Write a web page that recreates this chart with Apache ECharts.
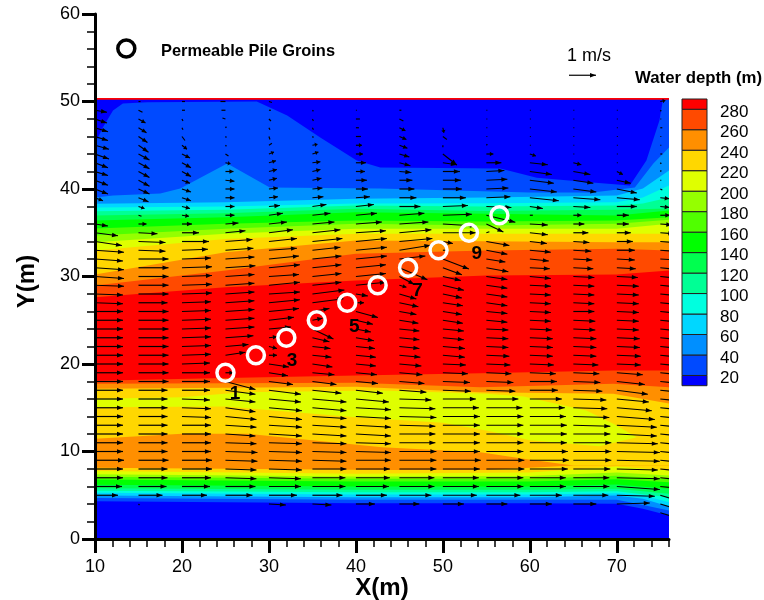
<!DOCTYPE html>
<html><head><meta charset="utf-8"><style>html,body{margin:0;background:#fff}#c{width:764px;height:600px}</style>
<script src="https://cdn.jsdelivr.net/npm/echarts@6/dist/echarts.min.js"></script></head>
<body><div id="c"></div><script>
// ---- depth contours: [x, y] points; the area above each line takes the paired colour
const c1=[[10,4.32],[40,4.09],[60,4.09],[70,4.02],[73,3.45],[76,2.69]];
const c2=[[10,4.7],[40,4.48],[60,4.48],[70,4.48],[73,3.9],[76,3.26]];
const c3=[[10,4.97],[40,4.78],[60,4.78],[70,4.97],[73,4.6],[76,3.71]];
const c4=[[10,5.28],[40,5.09],[60,5.09],[70,5.24],[73,5.0],[76,4.21]];
const c5=[[10,5.51],[40,5.35],[60,5.35],[70,5.47],[76,4.78]];
const c6=[[10,5.81],[40,5.62],[60,5.62],[70,5.73],[76,5.16]];
const c7=[[10,6.2],[40,6.0],[60,6.0],[70,6.23],[76,5.73]];
const c8=[[10,6.8],[40,6.57],[60,6.57],[70,6.84],[76,6.49]];
const c9=[[10,7.11],[40,6.88],[60,6.9],[70,7.22],[76,6.88]];
const c10=[[10,7.41],[40,7.14],[60,7.2],[70,7.6],[76,7.26]];
const c11=[[10,7.76],[40,7.45],[60,7.6],[70,8.29],[76,7.83]];
const o1=[[10,8.14],[25,8.02],[43,7.9],[55,7.9],[65,8.4],[76,8.4]];
const o2=[[10,11.45],[20,12.02],[27.5,12.02],[43,10.49],[54.3,9.92],[59.3,9.17],[65,8.4],[76,8.4]];
const d1=[[10,15.06],[25,15.14],[40,13.92],[50,13.3],[55,12.4],[60,11.3],[68,10.6],[72.3,11.63],[76,11.63]];
const d2=[[10,16.02],[20,16.2],[27,16.78],[42.8,16.97],[55,16.6],[59.3,16.3],[66.5,14.69],[69.6,13.17],[72.3,11.63],[76,11.63]];
const d3=[[10,17.17],[25,17.3],[40,17.4],[54.3,16.78],[69.6,16.6],[76,15.5]];
const d4=[[10,17.74],[25,17.8],[40,17.85],[54.3,17.35],[69.6,17.74],[76,17.35]];
const d5=[[10,18.1],[25,18.4],[40,18.7],[54.3,18.95],[69.6,19.26],[76,19.26]];
const r1=[[10,27.63],[25,28.78],[40,29.54],[55,30.11],[70,30.23],[76,30.69]];
const r2=[[10,28.97],[25,30.69],[40,32.6],[55,32.97],[70,33.17],[76,32.97]];
const r3=[[10,30.23],[25,32.78],[40,34.11],[55,34.03],[70,33.92],[76,33.92]];
const r4=[[10,32.97],[25,34.3],[40,34.88],[55,34.88],[70,34.88],[76,34.88]];
const r5=[[10,33.92],[25,34.88],[40,35.45],[55,35.45],[70,35.45],[76,36.02]];
const r6=[[10,34.69],[25,35.45],[40,36.02],[55,35.83],[70,36.02],[76,36.48]];
const r7=[[10,35.49],[25,36.02],[40,36.4],[55,36.3],[70,36.4],[76,36.78]];
const r8=[[10,36.4],[25,36.78],[40,37.35],[55,37.16],[70,36.97],[76,37.54]];
const r9=[[10,36.97],[25,37.24],[40,37.73],[55,37.49],[70,37.62],[76,37.77]];
const r10=[[10,37.46],[25,37.62],[40,38.11],[55,38],[70,38.11],[73,38.34],[76,39.03]];
const r11=[[10,37.89],[25,38],[40,38.34],[55,38.38],[70,38.49],[73,39.03],[76,40.4]];
const r12=[[10,38.31],[25,38.49],[40,38.9],[55,39.03],[70,39.26],[73,40.06],[76,42.11]];
const r13=[[10,39.03],[12.07,39.26],[17.5,39.49],[19.8,40.06],[25.2,42.91],[30.1,40.17],[42.8,40.06],[60,39.6],[67.2,39.6],[72.07,40.17],[74.2,42.91],[76,44.75]];
const r14=[[10,45.2],[10.9,47.03],[12.07,48.97],[13.2,49.77],[16,49.92],[28.6,50],[32.1,48.4],[35.9,45.89],[40.1,43.26],[42.8,42.46],[56.6,42.34],[60.8,41.3],[67.2,40.74],[71.5,40.4],[73.4,43.26],[74.9,47.83],[75.3,50.2],[76,50.2]];
const wallLine=[[10,50.2],[76,50.2]];
const domainTop=50.4;
const baseLine=[[10,0],[76,0]];
const contourLines=[baseLine,c1,c2,c3,c4,c5,c6,c7,c8,c9,c10,c11,o1,o2,d1,d2,d3,d4,d5,r1,r2,r3,r4,r5,r6,r7,r8,r9,r10,r11,r12,r13,r14,wallLine];
// lower edge of the depth band that lies above each contour line
const contourBands=[10,20,40,60,80,100,120,140,160,180,200,220,240,220,200,220,240,260,280,260,240,220,200,180,160,140,120,100,80,60,40,20,10,280];

// ---- colour scale
const legendLevels=[20,40,60,80,100,120,140,160,180,200,220,240,260,280];
const legendEdges=[10,20,40,60,80,100,120,140,160,180,200,220,240,260,280,290];
const legendColors=['#0000ff','#004aff','#008fff','#00d7ff','#00ffdf','#00ff95','#00ff4f','#00ff00','#50ff00','#95ff00','#dfff00','#ffd700','#ff8f00','#ff4a00','#ff0000'];

// ---- velocity field: rows y=50..3, columns x=10..75; values in 1/27 m/s
const rowY=[50,49,48,47,46,45,44,43,42,41,40,39,38,37,36,35,34,33,32,31,30,29,28,27,26,25,24,23,22,21,20,19,18,17,16,15,14,13,12,11,10,9,8,7,6,5,4,3];
const columnX=[10,15,20,25,30,35,40,45,50,55,60,65,70,75];
const u10=[0,12,12,13,13,14,14,13,13,13, 13,8,0,0,13,23,27,29,28,29, 29,29,28,28,28,28,28,28,28,28, 28,28,28,28,28,28,28,28,28,28, 28,29,28,28,27,23,0,0];
const v10=[0,-2,-4,-4,-4,-4,-5,-5,-4,-5, -5,-3,0,0,-2,-3,-4,-2,-2,-2, -2,-1,-1,-1,0,0,0,0,0,0, 0,0,0,0,0,0,0,0,0,0, 0,0,0,0,0,0,0,0];
const u15=[2,4,7,8,9,10,11,11,11,11, 11,10,6,3,8,19,27,27,30,30, 30,30,30,29,30,30,30,30,30,30, 30,30,30,29,29,29,29,29,29,29, 29,30,29,29,28,24,1,0];
const v15=[0,-2,-4,-5,-6,-7,-6,-6,-6,-6, -5,-4,-2,-1,0,-1,-1,-1,0,0, 0,0,0,0,0,0,0,0,0,0, 0,0,0,0,0,0,0,0,0,0, 0,0,0,0,0,0,-1,0];
const u20=[3,3,1,1,3,5,8,9,9,8, 9,9,8,7,10,17,27,26,29,30, 30,30,30,29,29,29,29,29,29,29, 28,28,28,28,28,29,29,29,29,29, 29,30,30,29,28,25,0,0];
const v20=[0,0,-2,-2,-4,-4,-4,-5,-5,-3, -3,-3,-2,-1,0,0,0,1,1,1, 1,1,1,1,1,1,1,1,1,1, 1,0,0,0,-1,-1,-1,0,0,0, 0,0,0,0,0,0,0,0];
const u25=[-5,-4,-3,1,1,1,3,5,8,9, 9,9,9,9,13,20,27,28,29,30, 29,29,29,29,29,29,29,28,23,20, 0,8,30,30,30,30,31,31,30,31, 32,32,31,31,30,27,0,0];
const v25=[0,0,1,1,-1,-1,-2,-1,0,-1, 0,0,0,0,1,2,2,2,2,2, 2,2,2,2,2,2,2,2,2,3, 0,0,-8,-4,-3,-4,-3,-2,-2,-1, -1,-1,-1,-1,0,0,0,0];
const u30=[3,2,2,1,1,3,5,7,8,8, 9,9,11,14,18,24,28,28,30,31, 30,31,31,31,30,25,22,8,8,8, 20,19,24,32,32,33,33,33,33,33, 33,33,33,32,32,28,17,0];
const v30=[-1,0,-2,-2,-3,2,2,2,2,2, 1,1,1,2,2,3,3,2,3,3, 2,3,2,3,3,3,2,1,-2,0, -3,-3,-3,-4,-3,-3,-3,-2,-2,-1, -1,-1,-1,-1,0,0,-1,0];
const u35=[0,1,1,1,1,5,6,8,8,9, 10,11,14,18,22,28,30,28,29,29, 29,29,32,31,17,10,21,17,18,19, 20,22,24,29,34,34,34,34,34,34, 34,34,34,33,33,30,19,0];
const v35=[0,-1,-2,-2,-1,1,2,1,2,2, 1,1,2,2,2,3,3,3,3,3, 3,3,4,4,3,2,-10,-4,-2,-2, -3,-2,-3,-3,-3,-3,-2,-2,-2,-1, -1,-1,0,0,0,0,-1,0];
const u40=[0,1,4,3,5,6,7,10,9,11, 12,14,18,21,26,30,31,31,31,30, 30,30,12,8,22,17,15,18,19,20, 20,21,22,27,33,35,35,35,35,35, 35,35,34,34,33,31,19,0];
const v40=[0,0,0,0,0,0,0,0,0,0, 0,1,2,2,2,2,3,3,3,3, 3,3,-2,0,-6,-4,-3,-3,-2,-2, -2,-2,-2,-3,-3,-2,-2,-2,-2,-1, -1,0,0,0,0,0,0,0];
const u45=[0,2,4,6,7,8,10,11,12,13, 15,17,21,25,29,32,33,31,26,28, 15,7,17,19,17,19,20,20,20,21, 22,23,25,27,32,36,37,36,36,36, 37,37,37,35,35,32,20,0];
const v45=[0,0,-2,-3,-3,-3,-3,-3,-1,0, 0,0,0,2,2,3,3,5,3,-12, -8,-2,-5,-4,-3,-3,-2,-2,-2,-2, -2,-2,-2,-2,-1,-1,-1,-1,0,0, 0,0,0,0,0,0,0,0];
const u50=[0,0,0,1,4,0,14,14,17,18, 19,23,25,29,33,33,10,3,26,19, 18,21,19,20,19,20,21,21,22,22, 23,25,27,28,33,36,37,37,37,37, 37,38,37,36,36,34,21,0];
const v50=[0,0,0,-5,-3,-2,-11,-2,0,0, 0,0,1,1,-2,0,-2,0,-10,-7, -4,-5,-4,-3,-3,-3,-2,-2,-2,-2, -1,-1,-1,-1,0,0,0,0,0,0, 0,0,0,0,0,0,0,0];
const u55=[0,1,1,1,1,1,7,15,18,21, 22,24,25,29,17,3,23,21,19,22, 21,21,21,21,21,21,22,22,22,23, 24,25,27,29,32,36,37,37,37,37, 37,38,38,37,37,34,21,0];
const v55=[0,0,0,0,0,1,0,0,1,1, 1,1,-1,-7,-8,1,-4,-4,-3,-4, -3,-3,-3,-3,-2,-2,-1,-1,-1,-1, -1,-1,-1,-1,0,0,0,0,0,0, 0,0,0,0,0,0,0,0];
const u60=[0,1,1,1,1,1,6,18,22,24, 27,29,13,3,18,18,17,21,19,20, 21,21,21,21,21,21,22,23,23,23, 24,26,27,28,32,35,36,37,37,37, 38,39,38,36,36,32,22,0];
const v60=[0,0,0,0,0,0,-2,-2,-3,-3, -3,-3,-2,0,-1,-2,-2,-2,-2,-1, -2,-1,-1,-1,-1,-1,-1,-1,-1,-1, -1,-1,0,0,0,0,0,0,0,0, 0,0,0,0,0,0,0,0];
const u65=[0,1,1,1,1,1,1,8,17,20, 23,27,17,8,11,15,16,18,19,20, 21,21,21,21,21,22,22,23,23,23, 25,26,27,29,33,34,36,37,37,38, 38,38,37,36,36,35,23,0];
const v65=[0,0,0,0,0,0,0,-2,-3,-3, -3,-2,-1,0,0,0,-1,-1,-1,-1, -1,-1,-1,-1,0,-1,-1,-1,-1,-1, -1,-1,-1,-1,-1,-1,-1,-1,0,0, 0,0,0,0,0,0,0,0];
const u70=[0,1,1,1,1,1,1,1,6,14, 20,23,20,12,12,14,16,18,18,19, 21,22,22,22,22,22,22,23,23,24, 24,26,28,31,32,35,38,40,40,41, 43,43,41,43,43,38,33,0];
const v70=[0,0,0,0,0,0,0,0,-3,-3, -4,-2,0,0,0,0,0,0,-1,-1, -1,-1,-1,-1,-1,-1,-1,-1,-1,-1, -1,-2,-3,-4,-3,-3,-3,-2,-2,-1, -1,-1,-1,-1,-3,-1,1,0];
const u75=[5,1,1,2,1,1,2,1,1,1, 2,9,9,10,12,14,16,16,18,18, 20,20,20,20,20,20,20,20,20,20, 22,22,22,22,22,22,22,22,22,22, 22,22,22,20,20,20,20,20];
const v75=[1,-1,0,0,0,0,0,-1,1,0, -1,-1,-1,0,-1,-1,-1,-1,-1,-2, -2,-2,-2,-2,-2,-2,-2,-2,-2,-2, -2,-2,-2,-2,-2,-2,-2,-2,-2,-2, -2,-2,-2,-2,-2,-6,-6,-6];
const uColumns=[u10,u15,u20,u25,u30,u35,u40,u45,u50,u55,u60,u65,u70,u75];
const vColumns=[v10,v15,v20,v25,v30,v35,v40,v45,v50,v55,v60,v65,v70,v75];
const unitsPerMs=27;
const keyArrow=[64.5,53,27,0];

// ---- groins
const pileX=[25,28.5,32,35.5,39,42.5,46,49.5,53,56.5];
const pileY=[19,21,23,25,27,29,31,33,35,37];
const pileKey=[13.6,56.05];
const pileNames=['1','3','5','7','9'];
const pileNameX=[26.1,32.65,39.8,47.1,53.9];
const pileNameY=[16.6,20.4,24.3,28.4,32.6];

// ---- axes
const xMajorTicks=[10,20,30,40,50,60,70];
const FONT='"Liberation Sans",Arial,sans-serif';
const dataPerMsX=27/8.7, dataPerMsY=27/8.75;

const bandColor=v=>legendColors[legendEdges.indexOf(v)];

const quiver=[];
columnX.forEach((x,c)=>rowY.forEach((y,r)=>{
  const u=uColumns[c][r],v=vColumns[c][r];
  if(u||v) quiver.push([x,y,u,v]);
}));
quiver.push(keyArrow);

function arrowItem(params,api){
  const x=api.value(0),y=api.value(1),u=api.value(2),v=api.value(3);
  const a=api.coord([x,y]);
  const b=api.coord([x+u/unitsPerMs*dataPerMsX,y+v/unitsPerMs*dataPerMsY]);
  const dx=b[0]-a[0],dy=b[1]-a[1],L=Math.hypot(dx,dy)||1,ux=dx/L,uy=dy/L;
  const kids=[{type:'line',shape:{x1:a[0],y1:a[1],x2:b[0],y2:b[1]},style:{stroke:'#000',lineWidth:1.2}}];
  if(L>=5){
    const hl=Math.min(6,L*0.5),hw=2.2,bx=b[0]-ux*hl,by=b[1]-uy*hl;
    kids.push({type:'polygon',shape:{points:[[b[0],b[1]],[bx-uy*hw,by+ux*hw],[bx+uy*hw,by-ux*hw]]},style:{fill:'#000'}});
  }
  return {type:'group',children:kids};
}

const chart=echarts.init(document.getElementById('c'));
chart.setOption({
  animation:false,
  textStyle:{fontFamily:FONT},
  grid:[{left:95,top:14,width:574,height:525,outerBoundsMode:'none',containLabel:false},
        {left:682,top:99,width:25,height:286.7,outerBoundsMode:'none',containLabel:false}],
  xAxis:[
    {gridIndex:0,type:'value',min:10,max:76,interval:2,z:10,
     axisLine:{show:true,onZero:false,lineStyle:{color:'#000',width:3}},
     axisTick:{show:true,length:8,lineStyle:{color:'#000',width:1.5}},
     axisLabel:{show:false},splitLine:{show:false}},
    {gridIndex:0,type:'value',min:10,max:76,z:11,position:'bottom',
     name:'X(m)',nameLocation:'middle',nameGap:37,nameMoveOverlap:false,
     nameTextStyle:{fontSize:24,fontWeight:'bold',color:'#000',fontFamily:FONT},
     axisLine:{show:false,onZero:false},
     axisTick:{show:true,length:14,customValues:xMajorTicks,lineStyle:{color:'#000',width:3}},
     axisLabel:{show:true,customValues:xMajorTicks,margin:19,fontSize:18,color:'#000',fontFamily:FONT},
     splitLine:{show:false}},
    {gridIndex:1,type:'value',min:0,max:1,show:false}
  ],
  yAxis:[
    {gridIndex:0,type:'value',min:0,max:60,interval:10,z:10,
     name:'Y(m)',nameLocation:'middle',nameGap:56,nameRotate:90,
     nameTextStyle:{fontSize:24,fontWeight:'bold',color:'#000',fontFamily:FONT,padding:[0,10,0,0]},
     axisLine:{show:true,onZero:false,lineStyle:{color:'#000',width:3}},
     axisTick:{show:true,length:13,lineStyle:{color:'#000',width:3}},
     minorTick:{show:true,splitNumber:5,length:8,lineStyle:{color:'#000',width:1.5}},
     axisLabel:{margin:15,fontSize:18,color:'#000',fontFamily:FONT},
     splitLine:{show:false},minorSplitLine:{show:false}},
    {gridIndex:1,type:'value',min:10,max:290,position:'right',z:10,
     axisLine:{show:false},axisTick:{show:false},splitLine:{show:false},
     axisLabel:{show:true,customValues:legendLevels,margin:13,fontSize:17,color:'#000',fontFamily:FONT,verticalAlign:'top',lineHeight:6}}
  ],
  graphic:[
    {type:'text',left:161,top:43,style:{text:'Permeable Pile Groins',font:'bold 16.4px '+FONT,fill:'#000'}},
    {type:'text',left:567,top:47,style:{text:'1 m/s',font:'18px '+FONT,fill:'#000'}},
    {type:'text',left:635,top:70,style:{text:'Water depth (m)',font:'bold 16.8px '+FONT,fill:'#000'}}
  ],
  series:[
    {type:'custom',name:'Water depth',xAxisIndex:0,yAxisIndex:0,z:1,silent:true,clip:true,
     data:contourLines.map((l,i)=>[i]),encode:{x:[],y:[]},
     renderItem:(p,api)=>{
       const i=api.value(0),line=contourLines[i];
       const pts=line.concat([[76,domainTop],[10,domainTop]]).map(q=>api.coord(q));
       return {type:'polygon',shape:{points:pts},style:{fill:bandColor(contourBands[i])}};
     }},
    {type:'custom',name:'Velocity',xAxisIndex:0,yAxisIndex:0,z:2,silent:true,clip:true,
     data:quiver,encode:{x:0,y:1},renderItem:arrowItem},
    {type:'scatter',name:'Piles',xAxisIndex:0,yAxisIndex:0,z:3,silent:true,
     data:pileX.map((x,i)=>[x,pileY[i]]),symbol:'circle',symbolSize:17,
     itemStyle:{color:'rgba(0,0,0,0)',borderColor:'#fff',borderWidth:3.5,opacity:1}},
    {type:'scatter',name:'Pile key',xAxisIndex:0,yAxisIndex:0,z:3,silent:true,
     data:[pileKey],symbol:'circle',symbolSize:17,
     itemStyle:{color:'rgba(0,0,0,0)',borderColor:'#000',borderWidth:3.5,opacity:1}},
    {type:'scatter',name:'Pile numbers',xAxisIndex:0,yAxisIndex:0,z:4,silent:true,
     data:pileNameX.map((x,i)=>({value:[x,pileNameY[i]],name:pileNames[i]})),symbolSize:1,
     itemStyle:{color:'rgba(0,0,0,0)',opacity:1},
     label:{show:true,position:'inside',formatter:'{b}',fontSize:19,fontWeight:'bold',color:'#000',opacity:1,fontFamily:FONT}},
    {type:'custom',name:'Colour scale',xAxisIndex:2,yAxisIndex:1,z:2,silent:true,
     data:legendColors.map((c,i)=>[i]),encode:{x:[],y:[]},
     renderItem:(p,api)=>{
       const i=api.value(0),a=api.coord([0,legendEdges[i]]),b=api.coord([1,legendEdges[i+1]]);
       return {type:'rect',shape:{x:a[0],y:b[1],width:b[0]-a[0],height:a[1]-b[1]},
               style:{fill:legendColors[i],stroke:'#222',lineWidth:1}};
     }}
  ]
});
</script></body></html>
